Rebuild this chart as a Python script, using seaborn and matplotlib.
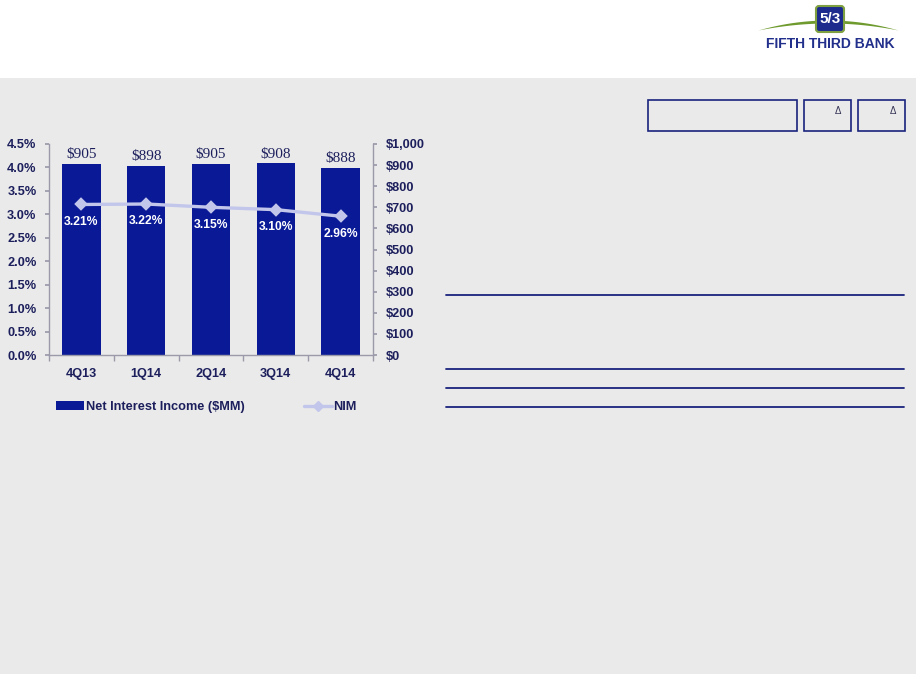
import numpy as np
import pandas as pd
import matplotlib
matplotlib.use("Agg")
import matplotlib.pyplot as plt
import seaborn as sns
from matplotlib.patches import Rectangle, FancyBboxPatch, Patch
from matplotlib.lines import Line2D

# ---------------- data ----------------
quarters = ["4Q13", "1Q14", "2Q14", "3Q14", "4Q14"]
nii = [905, 898, 905, 908, 888]          # Net Interest Income ($MM)
nim = [3.21, 3.22, 3.15, 3.10, 2.96]     # NIM (%)
pct_ticks = [0.0, 0.5, 1.0, 1.5, 2.0, 2.5, 3.0, 3.5, 4.0, 4.5]
usd_ticks = [0, 100, 200, 300, 400, 500, 600, 700, 800, 900, 1000]
legend_labels = ["Net Interest Income ($MM)", "NIM"]
logo_text = "FIFTH THIRD BANK"
logo_mark = "5/3"

# ---------------- style ----------------
sns.set_theme(style="white")
plt.rcParams["font.family"] = ["Liberation Sans", "DejaVu Sans"]

BAR = "#0A1A96"
NIM_C = "#C2C6EA"
TICKC = "#1C1F5C"
SPINE = "#9A9AAA"
NAVY = "#1A237E"
PANEL = "#EAEAEA"

W, H = 916, 674
fig = plt.figure(figsize=(W / 100, H / 100), dpi=100)
fig.patch.set_facecolor("white")


def fx(px):
    return px / W


def fy(py):
    return 1 - py / H


fig.patches.append(Rectangle((0, 0), 1, fy(78), transform=fig.transFigure,
                             facecolor=PANEL, edgecolor="none", zorder=-5))

# ---------------- chart ----------------
df = pd.DataFrame({"Quarter": quarters, "NII": nii, "NIM": nim})

ax = fig.add_axes([fx(49), fy(355), fx(373) - fx(49), fy(144) - fy(355)])
ax.set_facecolor("none")
sns.barplot(data=df, x="Quarter", y="NII", ax=ax, color=BAR, width=0.59,
            saturation=1, errorbar=None, edgecolor="none", linewidth=0)

ax2 = ax.twinx()
sns.pointplot(data=df, x="Quarter", y="NIM", ax=ax2, color=NIM_C,
              markers="D", markersize=5, linewidth=2.4, errorbar=None)

# dollar axis on the right
ax.yaxis.tick_right()
ax.set_ylim(0, 1000)
ax.set_yticks(usd_ticks, labels=[f"${v:,}" for v in usd_ticks],
              fontweight="bold", fontsize=9.2, color=TICKC)
ax.tick_params(axis="y", which="both", right=True, left=False,
               direction="out", length=3, pad=6, color=SPINE)

# percent axis on the left
ax2.yaxis.tick_left()
ax2.set_ylim(0, 4.5)
ax2.set_yticks(pct_ticks, labels=[f"{v:.1f}%" for v in pct_ticks],
               fontweight="bold", fontsize=9.2, color=TICKC)
ax2.tick_params(axis="y", which="both", left=True, right=False,
                direction="out", length=3, pad=6, color=SPINE)

ax.set_xlim(-0.5, len(quarters) - 0.5)
ax2.set_xlim(-0.5, len(quarters) - 0.5)
ax.set_xticks(range(len(quarters)), labels=quarters, fontweight="bold",
              fontsize=9.2, color=TICKC)
ax.set_xticks(np.arange(-0.5, len(quarters), 1), minor=True)
ax.tick_params(axis="x", which="major", length=0, pad=9, bottom=False)
ax.tick_params(axis="x", which="minor", length=4, direction="out",
               bottom=True, color=SPINE)

for a in (ax, ax2):
    a.set_xlabel("")
    a.set_ylabel("")
    a.grid(False)
    for s in a.spines.values():
        s.set_visible(False)
        s.set_color(SPINE)
        s.set_linewidth(1.0)
ax.spines["right"].set_visible(True)
ax.spines["bottom"].set_visible(True)
ax2.spines["left"].set_visible(True)

# value labels
ax.bar_label(ax.containers[0], labels=[f"${v}" for v in nii], padding=2,
             fontsize=11, color=TICKC, family=["Liberation Serif"])
for i, v in enumerate(nim):
    ax2.annotate(f"{v:.2f}%", (i, v), xytext=(0, -12.5),
                 textcoords="offset points", ha="center", va="center",
                 color="white", fontweight="bold", fontsize=8.7)

# legend
handles = [Patch(facecolor=BAR, edgecolor="none"),
           Line2D([], [], color=NIM_C, lw=2.4, marker="D", markersize=5)]
leg = ax2.legend(handles, legend_labels, loc="center left",
                 bbox_to_anchor=(fx(56), fy(407)),
                 bbox_transform=fig.transFigure, ncol=2, frameon=False,
                 borderpad=0, borderaxespad=0, handlelength=2.2,
                 handletextpad=0.15, columnspacing=4.6,
                 prop={"weight": "bold", "size": 9.2})
for t in leg.get_texts():
    t.set_color(TICKC)

# ---------------- right-hand table frame ----------------
for yy in (295, 369, 388, 407):
    fig.add_artist(Line2D([fx(446), fx(904)], [fy(yy), fy(yy)],
                          transform=fig.transFigure, color=NAVY, lw=1.3))

for x0, x1 in ((648, 797), (804, 851), (858, 905)):
    fig.add_artist(Rectangle((fx(x0), fy(131)), fx(x1) - fx(x0),
                             fy(100) - fy(131), transform=fig.transFigure,
                             facecolor=PANEL, edgecolor=NAVY, lw=1.2))
for xc in (838, 893):
    fig.text(fx(xc), fy(111), "\u0394", ha="center", va="center",
             fontsize=7, color="#333355")

# ---------------- logo ----------------
lax = fig.add_axes([fx(750), fy(60), fx(916) - fx(750), fy(0) - fy(60)])
lax.set_xlim(750, 916)
lax.set_ylim(60, 0)
lax.axis("off")
xs = np.linspace(758, 898, 80)
tt = (xs - 828) / 70
lax.fill_between(xs, 30 - 10 * (1 - tt ** 2), 30 - 7 * (1 - tt ** 2),
                 color="#6E9A2E", lw=0)
lax.add_patch(FancyBboxPatch((816, 6), 28, 26,
                             boxstyle="round,pad=0,rounding_size=3",
                             facecolor="#1B2A8C", edgecolor="#7FA040", lw=1.5))
lax.text(830, 19, logo_mark, ha="center", va="center", color="white",
         fontweight="bold", fontsize=11)
lax.text(830, 44, logo_text, ha="center", va="center", color="#22308C",
         fontweight="bold", fontsize=10)

fig.savefig("out.png", dpi=100)
